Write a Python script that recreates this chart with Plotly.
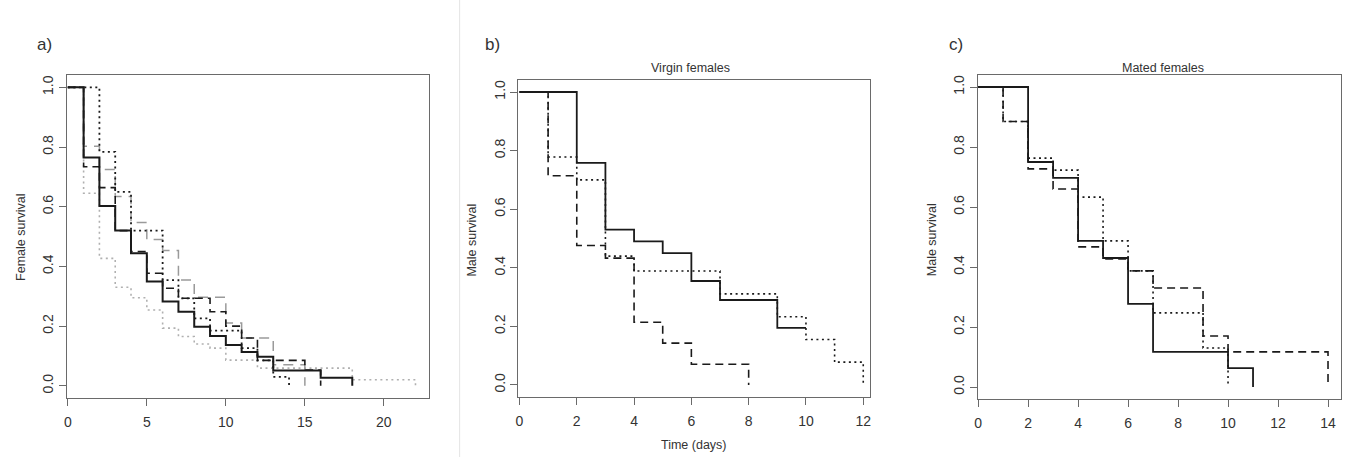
import plotly.graph_objects as go

W, H = 1346, 457

# ---------------- data ----------------
# Panel a) Female survival
a_black_solid_t = [0, 1, 2, 3, 4, 5, 6, 7, 8, 9, 10, 11, 12, 13, 16, 18]
a_black_solid_s = [1, 0.765, 0.602, 0.52, 0.444, 0.349, 0.282, 0.248, 0.198, 0.167, 0.137, 0.113, 0.097, 0.051, 0.027, 0]
a_black_dotted_t = [0, 2, 3, 4, 6, 7, 8, 9, 11, 12, 13, 14]
a_black_dotted_s = [1, 0.784, 0.65, 0.52, 0.354, 0.293, 0.226, 0.185, 0.126, 0.085, 0.03, 0]
a_black_dashed_t = [0, 1, 2, 3, 4, 5, 6, 7, 9, 10, 11, 12, 15, 16]
a_black_dashed_s = [1, 0.734, 0.664, 0.52, 0.45, 0.377, 0.327, 0.293, 0.248, 0.2, 0.16, 0.085, 0.053, 0]
a_gray_dashed_t = [0, 1, 2, 3, 4, 5, 6, 7, 8, 10, 11, 13, 15]
a_gray_dashed_s = [1, 0.803, 0.725, 0.634, 0.547, 0.49, 0.453, 0.354, 0.297, 0.21, 0.16, 0.07, 0]
a_gray_dotted_t = [0, 1, 2, 3, 4, 5, 6, 7, 8, 9, 10, 12, 18, 22]
a_gray_dotted_s = [1, 0.645, 0.427, 0.33, 0.295, 0.254, 0.193, 0.165, 0.14, 0.126, 0.086, 0.059, 0.02, 0]

# Panel b) Virgin females - male survival
b_solid_t = [0, 2, 3, 4, 5, 6, 7, 9, 10]
b_solid_s = [1, 0.758, 0.53, 0.49, 0.45, 0.355, 0.29, 0.195, 0.195]
b_dashed_t = [0, 1, 2, 3, 4, 5, 6, 8]
b_dashed_s = [1, 0.714, 0.476, 0.433, 0.214, 0.143, 0.071, 0]
b_dotted_t = [0, 1, 2, 3, 4, 7, 9, 10, 11, 12]
b_dotted_s = [1, 0.778, 0.70, 0.44, 0.389, 0.311, 0.233, 0.155, 0.078, 0]

# Panel c) Mated females - male survival
c_solid_t = [0, 2, 3, 4, 5, 6, 7, 10, 11]
c_solid_s = [1, 0.75, 0.697, 0.487, 0.43, 0.277, 0.117, 0.063, 0]
c_dashed_t = [0, 1, 2, 3, 4, 5, 6, 7, 9, 10, 14]
c_dashed_s = [1, 0.885, 0.727, 0.66, 0.467, 0.427, 0.387, 0.33, 0.17, 0.117, 0]
c_dotted_t = [0, 1, 2, 3, 4, 5, 6, 7, 9, 10]
c_dotted_s = [1, 0.885, 0.763, 0.723, 0.633, 0.487, 0.387, 0.247, 0.13, 0]

a_xticks = [0, 5, 10, 15, 20]
b_xticks = [0, 2, 4, 6, 8, 10, 12]
c_xticks = [0, 2, 4, 6, 8, 10, 12, 14]
y_ticks = [0.0, 0.2, 0.4, 0.6, 0.8, 1.0]

panel_labels = ["a)", "b)", "c)"]
panel_titles = ["", "Virgin females", "Mated females"]
y_titles = ["Female survival", "Male survival", "Male survival"]
x_title = "Time (days)"

# ---------------- styles ----------------
BLACK = "#1a1a1a"
GRAY_DASH = "#9a9a9a"
GRAY_DOT = "#b0b0b0"
DOT = "2px,3.5px"
DASH = "8px,5px"
GDASH = "10px,7px"
FONT = "Liberation Sans, Arial, sans-serif"

fig = go.Figure()

def add(t, s, ax, color, width, dash):
    fig.add_trace(go.Scatter(
        x=t, y=s, mode="lines", line_shape="hv",
        line=dict(color=color, width=width, dash=dash),
        xaxis=ax[0], yaxis=ax[1], showlegend=False, hoverinfo="skip"))

A = ("x", "y"); B = ("x2", "y2"); C = ("x3", "y3")
add(a_gray_dotted_t, a_gray_dotted_s, A, GRAY_DOT, 1.6, DOT)
add(a_gray_dashed_t, a_gray_dashed_s, A, GRAY_DASH, 1.5, GDASH)
add(a_black_dotted_t, a_black_dotted_s, A, BLACK, 1.8, DOT)
add(a_black_dashed_t, a_black_dashed_s, A, BLACK, 1.6, DASH)
add(a_black_solid_t, a_black_solid_s, A, BLACK, 2.0, "solid")

add(b_dotted_t, b_dotted_s, B, BLACK, 1.6, DOT)
add(b_dashed_t, b_dashed_s, B, BLACK, 1.6, DASH)
add(b_solid_t, b_solid_s, B, BLACK, 1.8, "solid")

add(c_dotted_t, c_dotted_s, C, BLACK, 1.6, DOT)
add(c_dashed_t, c_dashed_s, C, BLACK, 1.6, DASH)
add(c_solid_t, c_solid_s, C, BLACK, 1.8, "solid")

def xa(l, r, rng, ticks, anchor):
    return dict(domain=[l / W, r / W], range=rng, tickmode="array", tickvals=ticks,
                ticktext=[str(v) for v in ticks], showline=True, linecolor="#6a6a6a",
                linewidth=1, mirror=True, ticks="outside", ticklen=7, tickcolor="#6a6a6a",
                showgrid=False, zeroline=False, anchor=anchor, ticklabeloverflow="allow",
                ticklabelstandoff=4,
                tickfont=dict(family=FONT, size=14, color="#333"))

def ya(top, bot, anchor):
    return dict(domain=[1 - bot / H, 1 - top / H], range=[-0.04, 1.04], tickmode="array",
                tickvals=y_ticks, ticktext=["%.1f" % v for v in y_ticks], tickangle=-90,
                showline=True, linecolor="#6a6a6a", linewidth=1, mirror=True,
                ticks="outside", ticklen=7, tickcolor="#6a6a6a", showgrid=False,
                zeroline=False, anchor=anchor, ticklabeloverflow="allow",
                tickfont=dict(family=FONT, size=14, color="#333"))

fig.update_layout(
    width=W, height=H, margin=dict(l=0, r=0, t=0, b=0),
    paper_bgcolor="white", plot_bgcolor="white",
    xaxis=xa(64, 427.5, [-0.063, 22.87], a_xticks, "y"),
    yaxis=ya(75.4, 397.7, "x"),
    xaxis2=xa(517, 870, [-0.035, 12.25], b_xticks, "y2"),
    yaxis2=ya(80.3, 396.7, "x2"),
    xaxis3=xa(977.5, 1342, [-0.02, 14.52], c_xticks, "y3"),
    yaxis3=ya(75, 399, "x3"),
)

ann = []
def text(x, y, s, size, angle=0):
    ann.append(dict(x=x / W, y=1 - y / H, xref="paper", yref="paper", text=s,
                    showarrow=False, xanchor="center", yanchor="middle", textangle=angle,
                    font=dict(family=FONT, size=size, color="#333")))

for lab, xp in zip(panel_labels, [42, 491, 956]):
    text(xp, 45, lab, 17)
text(690, 68, panel_titles[1], 12.5)
text(1163, 68, panel_titles[2], 12.5)
text(693, 445, x_title, 12.5)
text(18, 237, y_titles[0], 12.5, -90)
text(470, 240, y_titles[1], 12.5, -90)
text(932, 240, y_titles[2], 12.5, -90)
fig.update_layout(annotations=ann)

fig.add_shape(type="line", xref="paper", yref="paper", x0=458 / W, x1=458 / W, y0=0, y1=1,
              line=dict(color="#e4e4e4", width=1))

fig.write_html("out.html", config={"displayModeBar": False},
               post_script="document.body.style.margin='0';document.body.style.overflow='hidden';")
